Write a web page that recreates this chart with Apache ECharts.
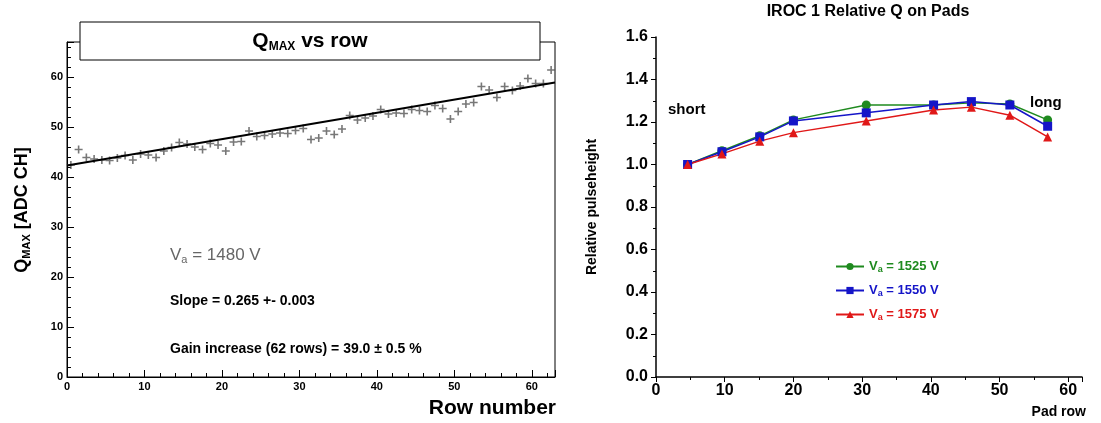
<!DOCTYPE html>
<html>
<head>
<meta charset="utf-8">
<script src="https://cdn.jsdelivr.net/npm/echarts@6/dist/echarts.min.js"></script>
<style>html,body{margin:0;background:#fff}#chart{width:1101px;height:423px}</style>
</head>
<body>
<div id="chart"></div>
<script>
// left panel: Qmax per row
const rows = [];
for (let i = 0; i < 63; i++) rows.push(i + 0.5);
const qmax = [42.4, 45.5, 43.9, 43.6, 43.4, 43.3, 43.8, 44.3, 43.4, 44.6, 44.4, 43.9, 45.2, 45.9, 46.9, 46.6,
    46.0, 45.5, 46.7, 46.4, 45.2, 47.0, 47.1, 49.2, 48.1, 48.3, 48.6, 48.8, 48.7, 49.3, 49.7, 47.5, 47.8, 49.2,
    48.5, 49.6, 52.3, 51.4, 51.8, 52.2, 53.5, 52.6, 52.8, 52.7, 53.5, 53.3, 53.1, 54.3, 53.7, 51.6, 53.1, 54.6,
    54.9, 58.1, 57.4, 55.9, 58.1, 57.3, 58.2, 59.7, 58.7, 58.7, 61.4];
const fitX = [0, 63];
const fitY = [42.3, 58.9];

// right panel: relative pulseheight
const padRow = [4.6, 9.6, 15.1, 20.0, 30.6, 40.4, 45.9, 51.5, 57.0];
const v1525 = [1.00, 1.065, 1.135, 1.21, 1.28, 1.28, 1.29, 1.285, 1.21];
const v1550 = [1.00, 1.06, 1.13, 1.205, 1.243, 1.28, 1.296, 1.28, 1.18];
const v1575 = [1.00, 1.05, 1.11, 1.15, 1.205, 1.256, 1.27, 1.232, 1.13];
const names = ['1525', '1550', '1575'];
const colors = ['#1f8a1f', '#1515c8', '#e01818'];

const chart = echarts.init(document.getElementById('chart'));
const bold = { fontFamily: 'Liberation Sans', fontWeight: 'bold', color: '#000' };
const plus = 'path://M4,0L6,0L6,4L10,4L10,6L6,6L6,10L4,10L4,6L0,6L0,4L4,4Z';

const rightSeries = [v1525, v1550, v1575].map((v, i) => ({
    type: 'line', xAxisIndex: 1, yAxisIndex: 1, name: names[i],
    data: padRow.map((x, j) => [x, v[j]]),
    symbol: ['circle', 'rect', 'triangle'][i], symbolSize: 9,
    lineStyle: { color: colors[i], width: 1.5 }, itemStyle: { color: colors[i] }
}));

chart.setOption({
    animation: false,
    grid: [
        { left: 67, top: 42, width: 488, height: 335, show: true, borderColor: '#000', borderWidth: 1, containLabel: false, outerBoundsMode: 'none' },
        { left: 656, top: 37, width: 426, height: 340, containLabel: false, outerBoundsMode: 'none' }
    ],
    xAxis: [
        { type: 'value', gridIndex: 0, min: 0, max: 63, interval: 10,
          axisLine: { lineStyle: { color: '#000' } }, axisTick: { inside: true, length: 7 },
          minorTick: { show: true, splitNumber: 5, length: 4 }, splitLine: { show: false },
          axisLabel: { ...bold, fontSize: 11, margin: 4, showMaxLabel: false } },
        { type: 'value', gridIndex: 1, min: 0, max: 62, interval: 10,
          axisLine: { lineStyle: { color: '#000', width: 1.5 } }, axisTick: { length: 5 },
          minorTick: { show: true, splitNumber: 2, length: 3 }, splitLine: { show: false },
          axisLabel: { ...bold, fontSize: 16, margin: 6, showMaxLabel: false } }
    ],
    yAxis: [
        { type: 'value', gridIndex: 0, min: 0, max: 67, interval: 10,
          axisLine: { lineStyle: { color: '#000' } }, axisTick: { inside: true, length: 7 },
          minorTick: { show: true, splitNumber: 5, length: 4 }, splitLine: { show: false },
          axisLabel: { ...bold, fontSize: 11, margin: 4, showMaxLabel: false } },
        { type: 'value', gridIndex: 1, min: 0, max: 1.6, interval: 0.2,
          axisLine: { lineStyle: { color: '#000', width: 1.5 } }, axisTick: { length: 5 },
          minorTick: { show: true, splitNumber: 2, length: 3 }, splitLine: { show: false },
          axisLabel: { ...bold, fontSize: 16, margin: 8, formatter: v => v.toFixed(1) } }
    ],
    legend: names.map((n, i) => ({
        data: [n], orient: 'vertical', left: 830, top: 255 + i * 24,
        itemWidth: 28, itemHeight: 9, itemGap: 6,
        formatter: 'V{s|a} = ' + n + ' V',
        textStyle: { ...bold, fontSize: 13, color: colors[i], rich: { s: { ...bold, color: colors[i], fontSize: 9, padding: [7, 0, 0, 0] } } }
    })),
    graphic: [
        { type: 'rect', shape: { x: 80, y: 22, width: 460, height: 38 }, style: { fill: '#fff', stroke: '#000', lineWidth: 1 }, z: 10 },
        { type: 'text', x: 310, y: 41, z: 11, style: { text: 'Q{s|MAX} vs row', align: 'center', verticalAlign: 'middle',
          font: 'bold 21px Liberation Sans', rich: { s: { font: 'bold 12px Liberation Sans', padding: [12, 0, 0, 0] } } } },
        { type: 'text', x: 22, y: 210, rotation: Math.PI / 2, style: { text: 'Q{s|MAX} [ADC CH]', align: 'center', verticalAlign: 'middle',
          font: 'bold 18px Liberation Sans', rich: { s: { font: 'bold 11px Liberation Sans', padding: [10, 0, 0, 0] } } } },
        { type: 'text', x: 556, y: 408, style: { text: 'Row number', align: 'right', verticalAlign: 'middle', fill: '#000', font: 'bold 21px Liberation Sans' } },
        { type: 'text', x: 1086, y: 412, style: { text: 'Pad row', align: 'right', verticalAlign: 'middle', fill: '#000', font: 'bold 14px Liberation Sans' } },
        { type: 'text', x: 592, y: 207, rotation: Math.PI / 2, style: { text: 'Relative pulseheight', align: 'center', verticalAlign: 'middle', fill: '#000', font: 'bold 14px Liberation Sans' } },
        { type: 'text', x: 170, y: 245, style: { text: 'V{s|a} = 1480 V', fill: '#666', font: '17px Liberation Sans',
          rich: { s: { font: '11px Liberation Sans', fill: '#666', padding: [9, 0, 0, 0] } } } },
        { type: 'text', x: 170, y: 294, style: { text: 'Slope = 0.265 +- 0.003', fill: '#000', font: 'bold 14px Liberation Sans' } },
        { type: 'text', x: 170, y: 342, style: { text: 'Gain increase (62 rows) = 39.0 \u00b1 0.5 %', fill: '#000', font: 'bold 14px Liberation Sans' } },
        { type: 'text', x: 868, y: 4, style: { text: 'IROC 1 Relative Q on Pads', align: 'center', fill: '#000', font: 'bold 16px Liberation Sans' } },
        { type: 'text', x: 668, y: 102, style: { text: 'short', fill: '#000', font: 'bold 15px Liberation Sans' } },
        { type: 'text', x: 1030, y: 95, style: { text: 'long', fill: '#000', font: 'bold 15px Liberation Sans' } }
    ],
    series: [
        { type: 'scatter', xAxisIndex: 0, yAxisIndex: 0, data: rows.map((x, i) => [x, qmax[i]]),
          symbol: plus, symbolSize: 8, itemStyle: { color: '#555' } },
        { type: 'line', xAxisIndex: 0, yAxisIndex: 0, data: fitX.map((x, i) => [x, fitY[i]]),
          symbol: 'none', lineStyle: { color: '#000', width: 2 } },
        ...rightSeries
    ]
});
</script>
</body>
</html>
